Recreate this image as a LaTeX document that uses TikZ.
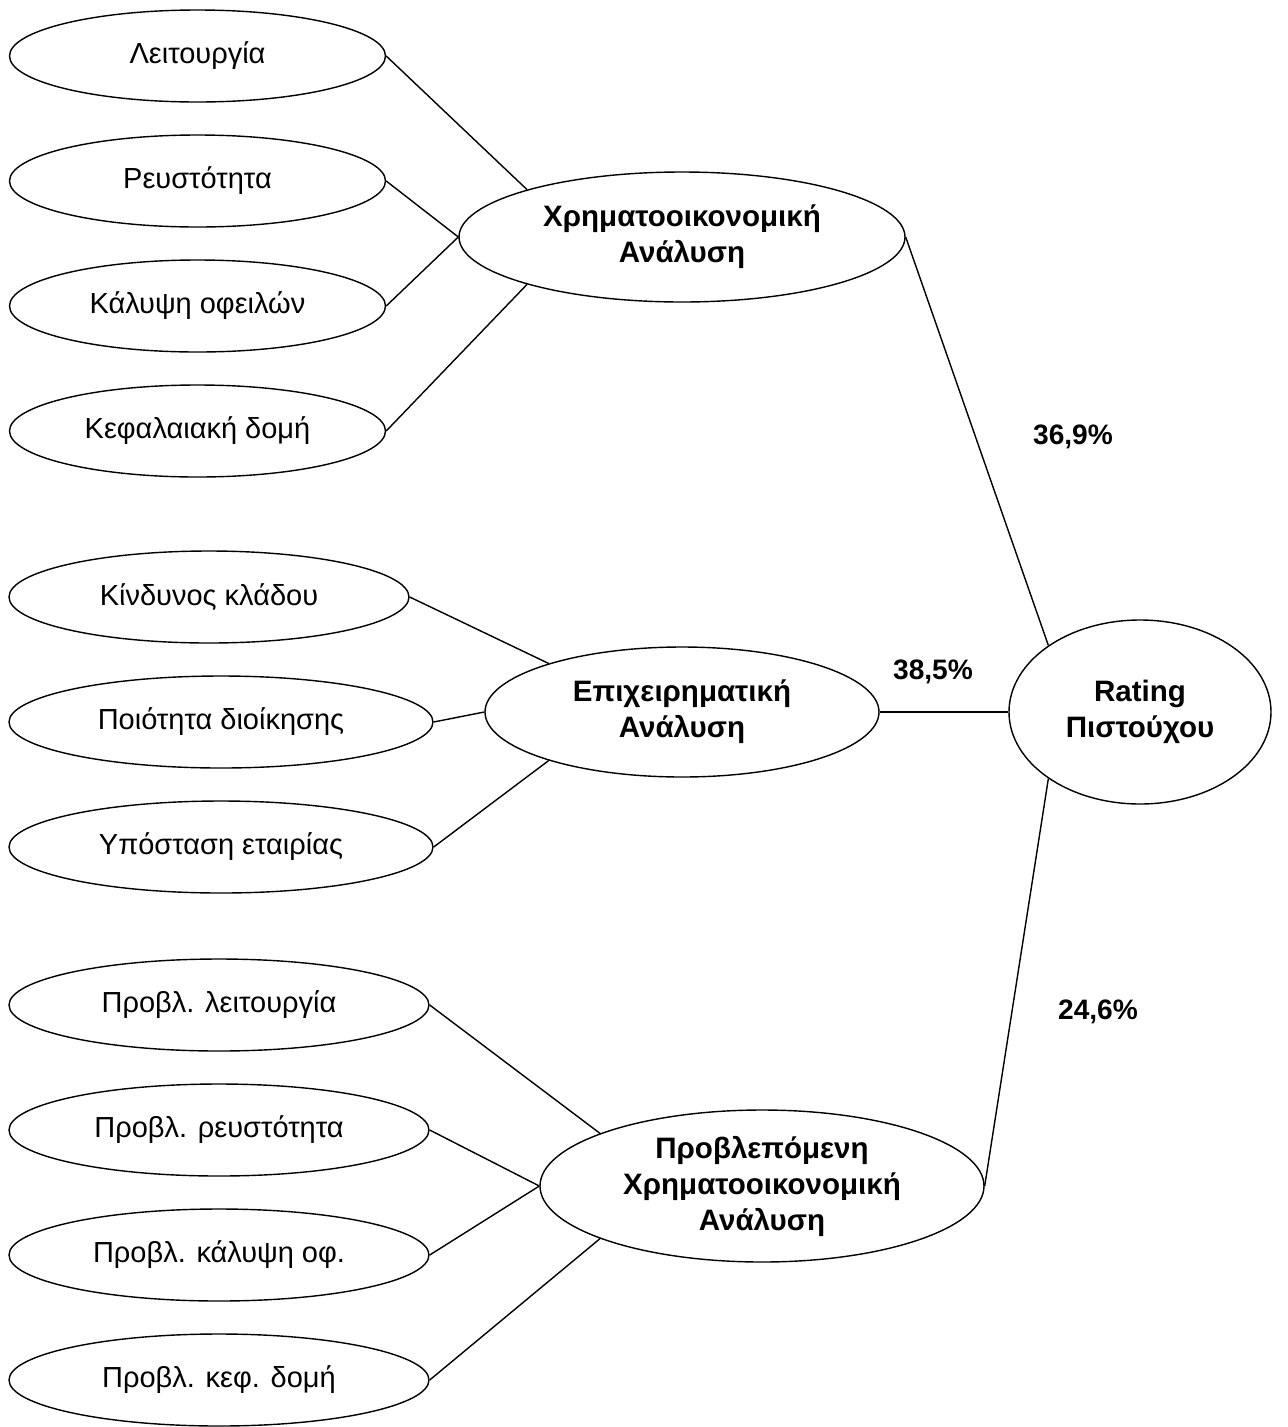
\documentclass[tikz,border=0pt]{standalone}
\usepackage{fontspec}
\setmainfont{Liberation Sans}
\usepackage{tikz}
\usetikzlibrary{positioning,shapes}

\begin{document}
\begin{tikzpicture}[
    factor/.style={ellipse,draw,line width=0.8pt,inner sep=0pt,minimum height=1.84cm,
        font=\fontsize{16.5pt}{20pt}\selectfont},
    block/.style={ellipse,draw,line width=0.8pt,inner sep=0pt,align=center,
        font=\fontsize{16.8pt}{20.5pt}\selectfont\bfseries},
    weight/.style={font=\fontsize{16pt}{20pt}\selectfont\bfseries},
    link/.style={line width=0.8pt}]

\useasboundingbox (0,0) rectangle (25.76,-28.54);

\node[block,minimum width=8.92cm,minimum height=2.6cm] (fin) at (13.64,-4.74) {Χρηματοοικονομική\\Ανάλυση};
\node[block,minimum width=7.88cm,minimum height=2.6cm] (bus) at (13.64,-14.24) {Επιχειρηματική\\Ανάλυση};
\node[block,minimum width=8.88cm,minimum height=3.04cm] (prj) at (15.24,-23.72) {Προβλεπόμενη\\Χρηματοοικονομική\\Ανάλυση};
\node[block,minimum width=5.24cm,minimum height=3.68cm] (rating) at (22.8,-14.24) {Rating\\Πιστούχου};

\foreach \name/\y/\label in {f1/-1.12/Λειτουργία, f2/-3.62/Ρευστότητα, f3/-6.12/Κάλυψη οφειλών, f4/-8.62/Κεφαλαιακή δομή} {
    \node[factor,minimum width=7.52cm] (\name) at (3.95,\y) {\label};
}
\node[factor,minimum width=8.0cm] (b1) at (4.18,-11.94) {Κίνδυνος κλάδου};
\foreach \name/\y/\label in {b2/-14.44/Ποιότητα διοίκησης, b3/-16.94/Υπόσταση εταιρίας} {
    \node[factor,minimum width=8.48cm] (\name) at (4.42,\y) {\label};
}
\foreach \name/\y/\label in {p1/-20.1/Προβλ. λειτουργία, p2/-22.6/Προβλ. ρευστότητα, p3/-25.1/Προβλ. κάλυψη οφ., p4/-27.6/Προβλ. κεφ. δομή} {
    \node[factor,minimum width=8.4cm] (\name) at (4.38,\y) {\label};
}

% factors to analyses
\foreach \from/\to in {f1/fin.163, f2/fin.west, f3/fin.west, f4/fin.197,
                       b1/bus.160, b2/bus.west, b3/bus.200,
                       p1/prj.162, p2/prj.west, p3/prj.west, p4/prj.198} {
    \draw[link] (\from.east) -- (\to);
}

% analyses to rating
\draw[link] (fin.east) -- (rating.144);
\draw[link] (bus.east) -- (rating.west);
\draw[link] (prj.east) -- (rating.216);

\node[weight] (w1) at (21.46,-8.74) {36,9\%};
\node[weight] (w2) at (18.66,-13.44) {38,5\%};
\node[weight] (w3) at (21.96,-20.24) {24,6\%};
\end{tikzpicture}
\end{document}
